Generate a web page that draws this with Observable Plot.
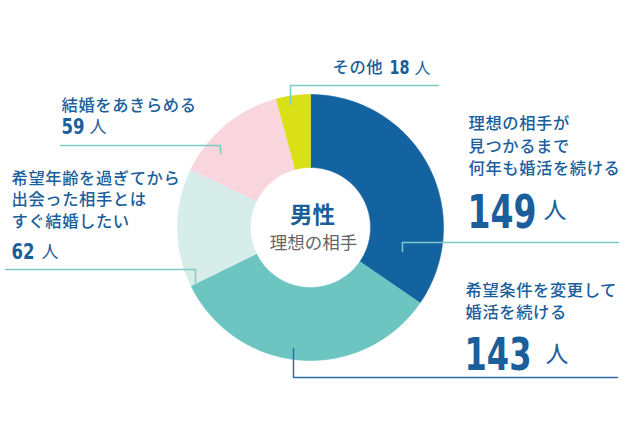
<!DOCTYPE html>
<html><head><meta charset="utf-8">
<script src="https://cdn.jsdelivr.net/npm/d3@7"></script>
<script src="https://cdn.jsdelivr.net/npm/@observablehq/plot@0.6"></script>
<style>body{margin:0;background:#fff}</style>
</head><body><div id="chart"></div>
<script>
// ---- data ----
const categories = [
  "理想の相手が\n見つかるまで\n何年も婚活を続ける",
  "希望条件を変更して\n婚活を続ける",
  "希望年齢を過ぎてから\n出会った相手とは\nすぐ結婚したい",
  "結婚をあきらめる",
  "その他"
];
const values = [149, 143, 62, 59, 18];
const unit = "人";
const centerTitle = "男性";
const centerSubtitle = "理想の相手";

// ---- styles / layout ----
const sliceColors = ["#1463a1", "#6cc5c0", "#d7ede9", "#f9d6de", "#d9e016"];
const leaderColors = ["#7ccbc7", "#2f6ea9", "#7ccbc7", "#7ccbc7", "#7ccbc7"];
const textBlue = "#1b5e9c";
const cx = 310, cy = 227, R = 133, r0 = 60;
const labelFont = "'Noto Sans CJK JP', 'Noto Sans', sans-serif";
const numFont = "'DejaVu Sans', sans-serif";
const labelSize = 16.3;
const labelLayout = [
  {x: 468, y: 173.5, lh: 1.38},
  {x: 465, y: 317, lh: 1.3},
  {x: 11, y: 226, lh: 1.3},
  {x: 61, y: 110, lh: 1.3},
  {x: 332, y: 72.5, lh: 1.3}
];
const numLayout = [
  {x: 467, y: 227, size: 46.5, w: 69, ux: 543, uy: 217, usize: 23},
  {x: 464, y: 369, size: 44, w: 67, ux: 545, uy: 361, usize: 23},
  {x: 11, y: 258, size: 20.5, w: 23, ux: 41, uy: 257, usize: 17},
  {x: 61, y: 133, size: 20.5, w: 23, ux: 89, uy: 132, usize: 17},
  {x: 389, y: 73.5, size: 20, w: 20, ux: 414, uy: 73, usize: 16}
];
const leaders = [
  [[402, 251], [402, 242], [618, 242]],
  [[293, 348], [293, 377], [617, 377]],
  [[195, 282], [195, 269], [5, 269]],
  [[220, 153], [220, 145], [60, 145]],
  [[290, 104], [290, 85], [438, 85]]
];

// ---- donut polygons from values ----
const pie = d3.pie().sort(null).value(d => d)(values);
const ring = [];
pie.forEach((s, i) => {
  const n = Math.max(2, Math.ceil((s.endAngle - s.startAngle) / (Math.PI / 360)));
  for (let k = 0; k <= n; k++) {
    const a = s.startAngle + (s.endAngle - s.startAngle) * k / n;
    ring.push({i, x: cx + R * Math.sin(a), y: cy - R * Math.cos(a)});
  }
  for (let k = n; k >= 0; k--) {
    const a = s.startAngle + (s.endAngle - s.startAngle) * k / n;
    ring.push({i, x: cx + r0 * Math.sin(a), y: cy - r0 * Math.cos(a)});
  }
});

const leaderPts = leaders.flatMap((pts, i) => pts.map(([x, y]) => ({i, x, y})));

const marks = [
  Plot.line(ring, {x: "x", y: "y", z: "i", fill: d => sliceColors[d.i], stroke: d => sliceColors[d.i], strokeWidth: 0.6}),
  Plot.line(leaderPts, {x: "x", y: "y", z: "i", stroke: d => leaderColors[d.i], strokeWidth: 1.5})
];

categories.forEach((c, i) => {
  const L = labelLayout[i], N = numLayout[i];
  marks.push(Plot.text([c], {x: () => L.x, y: () => L.y, text: d => d, textAnchor: "start", lineAnchor: "bottom",
    lineHeight: L.lh, fontSize: labelSize, fontWeight: 500, fontFamily: labelFont, fill: textBlue}));
  marks.push(Plot.text([values[i]], {x: () => N.x, y: () => N.y, text: d => String(d), textAnchor: "start", lineAnchor: "bottom",
    fontSize: N.size, fontWeight: "bold", fontFamily: numFont, fill: textBlue}));
  marks.push(Plot.text([unit], {x: () => N.ux, y: () => N.uy, text: d => d, textAnchor: "start", lineAnchor: "bottom",
    fontSize: N.usize, fontWeight: 400, fontFamily: labelFont, fill: textBlue}));
});

marks.push(Plot.text([centerTitle], {x: () => cx + 2, y: () => 222, text: d => d, textAnchor: "middle", lineAnchor: "bottom",
  fontSize: 22.5, fontWeight: "bold", fontFamily: labelFont, fill: textBlue}));
marks.push(Plot.text([centerSubtitle], {x: () => cx + 3, y: () => 248, text: d => d, textAnchor: "middle", lineAnchor: "bottom",
  fontSize: 17.5, fontWeight: 400, fontFamily: labelFont, fill: "#666666"}));

const chart = Plot.plot({
  width: 636, height: 426, margin: 0,
  x: {domain: [0, 636], range: [0, 636], axis: null},
  y: {domain: [0, 426], range: [0, 426], axis: null},
  style: {background: "#ffffff"},
  marks
});
document.getElementById("chart").appendChild(chart);

// condense the bold numbers horizontally to the reference widths, add slight tracking to labels
const widthByValue = new Map(values.map((v, i) => [String(v), numLayout[i].w]));
d3.select(chart).selectAll("text").each(function () {
  const t = this.textContent;
  if (widthByValue.has(t)) {
    const natural = this.getComputedTextLength();
    const sx = widthByValue.get(t) / natural;
    const tr = this.getAttribute("transform") || "";
    this.setAttribute("transform", `${tr} scale(${sx},1)`);
  }
});
d3.select(chart).selectAll(`g[font-size="${labelSize}"] text`).style("letter-spacing", "0.6px");
</script>
</body></html>
